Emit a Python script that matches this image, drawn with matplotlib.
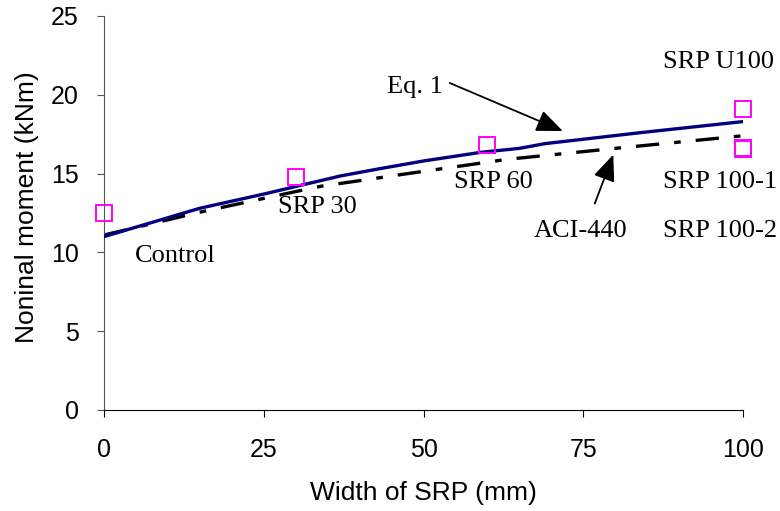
import matplotlib.pyplot as plt

# test results (nominal moment vs SRP width)
test_width = [0, 30, 60, 100, 100, 100]
test_moment = [12.5, 14.8, 16.8, 19.1, 16.65, 16.55]
test_names = ['Control', 'SRP 30', 'SRP 60', 'SRP U100', 'SRP 100-1', 'SRP 100-2']

# Eq. 1 prediction
eq1_width = [0, 15, 25, 37, 43, 50, 59, 65, 69, 84, 100]
eq1_moment = [11.0, 12.8, 13.7, 14.85, 15.3, 15.8, 16.35, 16.6, 16.9, 17.6, 18.3]

# ACI-440 prediction
aci_width = [0, 15, 27, 34, 40, 45, 63, 80, 100]
aci_moment = [11.1, 12.55, 13.6, 14.2, 14.55, 14.85, 15.9, 16.6, 17.4]

serif = 'Liberation Serif'
plt.rcParams['font.family'] = 'Liberation Sans'

fig = plt.figure(figsize=(7.8, 5.11), dpi=100)
ax = fig.add_axes([0.1333, 0.1977, 0.8193, 0.771])

ax.plot(eq1_width, eq1_moment, color='#000080', lw=2.4, zorder=3)
ax.plot(aci_width, aci_moment, color='black', lw=2.4, zorder=2,
        dashes=(7, 4.5, 2, 4.5))
ax.plot(test_width, test_moment, ls='none', marker='s', ms=11, mfc='none',
        mec='#ff00ff', mew=1.4, clip_on=False, zorder=4)

ax.set_xlim(0, 100)
ax.set_ylim(0, 25)
ax.set_xticks([0, 25, 50, 75, 100])
ax.set_yticks([0, 5, 10, 15, 20, 25])
ax.tick_params(direction='out', length=5, labelsize=18)
ax.tick_params(axis='x', pad=15)
ax.tick_params(axis='y', pad=13, color='#555555')
ax.spines['top'].set_visible(False)
ax.spines['right'].set_visible(False)
ax.spines['left'].set_color('#555555')
ax.spines['bottom'].set_color('black')

ax.set_xlabel('Width of SRP (mm)', fontsize=19)
ax.set_ylabel('Noninal moment (kNm)', fontsize=19)
ax.xaxis.set_label_coords(0.5, -0.18)
ax.yaxis.set_label_coords(-0.102, 0.515)

# specimen labels (left edge, baseline)
label_pos = [(4.8, 9.4), (27.2, 12.5), (54.8, 14.1), (87.5, 21.7),
             (87.5, 14.1), (87.5, 10.98)]
for name, (lx, ly) in zip(test_names, label_pos):
    ax.text(lx, ly, name, fontsize=19, family=serif, va='baseline')

ax.text(53.0, 20.1, 'Eq. 1', fontsize=19, family=serif, ha='right',
        va='baseline')
ax.text(74.6, 10.98, 'ACI-440', fontsize=19, family=serif, ha='center',
        va='baseline')

arrow = dict(arrowstyle='-|>,head_length=0.6,head_width=0.25',
             color='black', lw=1.3, mutation_scale=27, shrinkA=0, shrinkB=0)
ax.annotate('', xy=(71.8, 17.7), xytext=(54.1, 20.75), arrowprops=arrow)
ax.annotate('', xy=(79.7, 16.2), xytext=(76.8, 13.1), arrowprops=arrow)

fig.savefig('out.png', dpi=100)
